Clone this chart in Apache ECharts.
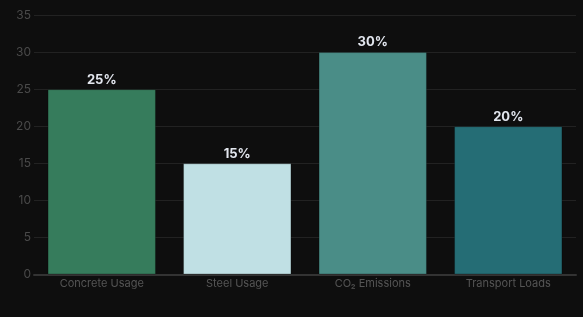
<!DOCTYPE html>
<html><head><meta charset="utf-8">
<script src="https://cdn.jsdelivr.net/npm/echarts@6/dist/echarts.min.js"></script>
<style>html,body{margin:0;padding:0;background:#0e0e0e;}#c{width:583px;height:317px;}</style>
</head><body><div id="c"></div>
<script>
const categories = ['Concrete Usage', 'Steel Usage', 'CO₂ Emissions', 'Transport Loads'];
const values = [25, 15, 30, 20];
const barColors = ['#367c5c', '#c0e0e4', '#4a8d87', '#256d75'];
const chart = echarts.init(document.getElementById('c'), null, {renderer: 'canvas'});
chart.setOption({
  backgroundColor: '#0e0e0e',
  animation: false,
  grid: {left: 34, right: 7, top: 15, bottom: 42.5},
  xAxis: {
    type: 'category', data: categories,
    axisLine: {lineStyle: {color: '#333', width: 2}},
    axisTick: {show: false},
    axisLabel: {color: '#555', fontFamily: 'Inter', fontSize: 11, margin: 4}
  },
  yAxis: {
    type: 'value', min: 0, max: 35, interval: 5,
    axisLine: {show: false}, axisTick: {show: false},
    axisLabel: {color: '#4a4a4a', fontFamily: 'Inter', fontSize: 12, margin: 3},
    splitLine: {lineStyle: {color: '#222', width: 1}}
  },
  series: [{
    type: 'bar', barCategoryGap: '20%',
    data: values.map((v, i) => ({value: v, itemStyle: {color: barColors[i]}})),
    itemStyle: {borderColor: 'rgba(0,0,0,0.25)', borderWidth: 1},
    label: {show: true, position: 'top', formatter: '{c}%', color: '#e2e6ee',
      fontFamily: 'Inter', fontWeight: 'bold', fontSize: 13, distance: 3}
  }]
});
</script></body></html>
